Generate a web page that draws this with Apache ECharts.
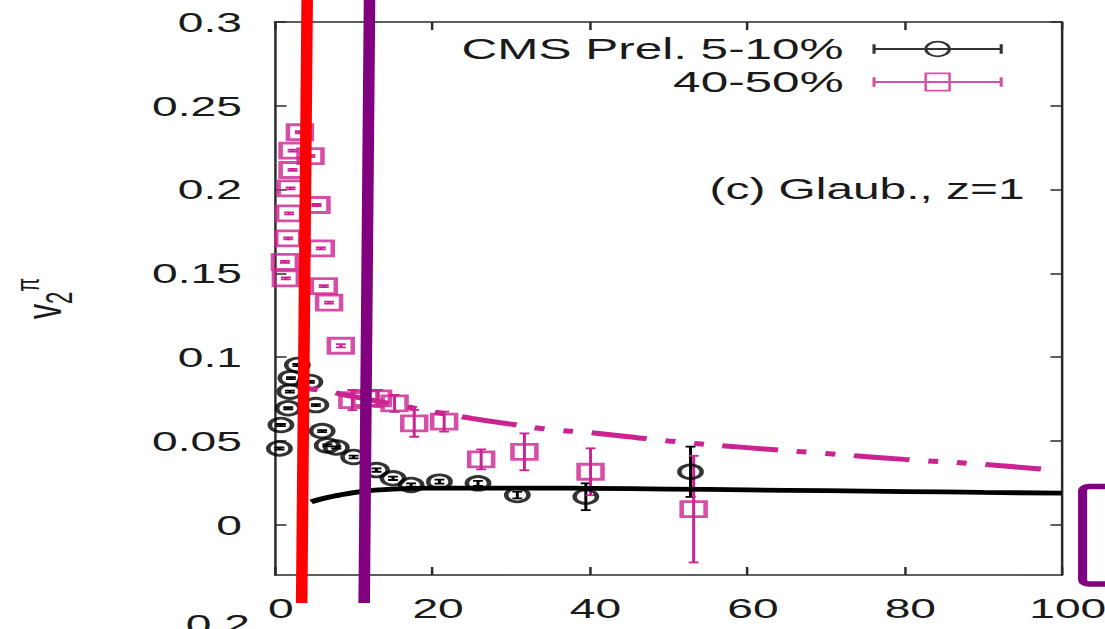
<!DOCTYPE html>
<html>
<head>
<meta charset="utf-8">
<script src="https://cdn.jsdelivr.net/npm/echarts@6/dist/echarts.min.js"></script>
<style>
  html, body { margin: 0; padding: 0; background: #fff; overflow: hidden; }
  #wrap { width: 1105px; height: 629px; overflow: hidden; position: relative; }
  /* the panel is laid out narrow and stretched horizontally */
  #chart { width: 670px; height: 629px; transform: scaleX(1.6493); transform-origin: 0 0; }
</style>
</head>
<body>
<div id="wrap"><div id="chart"></div></div>
<script>
// ---- axis ticks ----
const xTicks = [0, 20, 40, 60, 80, 100];
const yTicks = [0, 0.05, 0.1, 0.15, 0.2, 0.25, 0.3];

// ---- CMS preliminary, 5-10% centrality ----
const cmsName = 'CMS Prel. 5-10%';
const cmsPt  = [0.57, 0.76, 1.69, 1.9, 2.03, 2.85, 4.44, 5.2, 6.0, 6.65, 7.8, 10.0, 12.9, 15.0, 17.3, 20.9, 25.8, 30.8, 39.5, 52.8];
const cmsV   = [0.0455, 0.0595, 0.0695, 0.0794, 0.0875, 0.0953, 0.0852, 0.0714, 0.0559, 0.0473, 0.0461, 0.0404, 0.0326, 0.0277, 0.0237, 0.0257, 0.0247, 0.0177, 0.0167, 0.0316];
const cmsErr = [0.0006, 0.0006, 0.0006, 0.0006, 0.0006, 0.0006, 0.0006, 0.0006, 0.0006, 0.0006, 0.0006, 0.0008, 0.001, 0.001, 0.001, 0.0012, 0.0015, 0.002, 0.008, 0.015];

// ---- CMS preliminary, 40-50% centrality ----
const midName = '40-50%';
const midPt  = [1.27, 1.39, 1.69, 1.81, 1.99, 2.24, 2.24, 3.17, 4.52, 5.28, 5.83, 6.21, 6.88, 8.37, 9.84, 11.5, 13.1, 15.2, 17.7, 21.5, 26.2, 31.7, 40.1, 53.2];
const midV   = [0.1569, 0.1470, 0.1709, 0.1858, 0.2007, 0.2117, 0.2232, 0.2342, 0.2200, 0.1908, 0.1649, 0.1424, 0.1325, 0.1068, 0.0744, 0.0756, 0.0754, 0.0724, 0.0605, 0.0615, 0.0390, 0.0435, 0.0316, 0.0093];
const midErr = [0.0006, 0.0006, 0.0006, 0.0006, 0.0006, 0.0006, 0.0006, 0.0006, 0.0006, 0.0006, 0.0006, 0.0006, 0.0006, 0.001, 0.006, 0.005, 0.005, 0.005, 0.008, 0.006, 0.006, 0.011, 0.014, 0.0318];

// ---- Glauber, z=1 calculations ----
const calcCentralPt = [4.6, 6, 8, 10, 12, 15, 20, 30, 40, 50, 60, 70, 80, 90, 100];
const calcCentralV  = [0.0137, 0.0155, 0.0175, 0.0192, 0.0203, 0.0213, 0.0218, 0.0219, 0.0217, 0.0213, 0.0208, 0.0203, 0.0198, 0.0193, 0.0188];
const calcPeriphPt  = [4.2, 5.5, 10, 15, 20, 25, 30, 35, 40, 50, 60, 70, 80, 90, 99];
const calcPeriphV   = [0.0812, 0.0805, 0.0765, 0.0720, 0.0675, 0.0635, 0.0600, 0.0568, 0.0550, 0.0500, 0.0460, 0.0425, 0.0390, 0.0360, 0.0325];

const FONT = '"Liberation Sans", Arial, Helvetica, sans-serif';
const INK = '#1a1a1a';
const PINK = '#cb2391';

const chart = echarts.init(document.getElementById('chart'), null, { renderer: 'svg' });

const zip = (a, b) => a.map((v, i) => [v, b[i]]);

// vertical error bars with small caps
function errorBars(name, xs, ys, es, color) {
  return {
    type: 'custom',
    name: name + ' err',
    silent: true,
    clip: true,
    z: 3,
    data: xs.map((x, i) => [x, ys[i], es[i]]),
    encode: { x: 0, y: 1 },
    renderItem(params, api) {
      const x = api.value(0), y = api.value(1), e = api.value(2);
      const hi = api.coord([x, y + e]);
      const lo = api.coord([x, y - e]);
      const c = 3;
      const st = { stroke: color, lineWidth: 1.8 };
      return {
        type: 'group',
        children: [
          { type: 'line', shape: { x1: hi[0], y1: hi[1], x2: lo[0], y2: lo[1] }, style: st },
          { type: 'line', shape: { x1: hi[0] - c, y1: hi[1], x2: hi[0] + c, y2: hi[1] }, style: st },
          { type: 'line', shape: { x1: lo[0] - c, y1: lo[1], x2: lo[0] + c, y2: lo[1] }, style: st }
        ]
      };
    }
  };
}

// legend samples: bar with end caps and the point marker
const cmsIcon = 'path://M0 0M79 20M0 8.9H79V11.1H0ZM0 5.3H1.9V14.7H0ZM77.1 5.3H79V14.7H77.1Z' +
  'M31.4 10A8.1 8.3 0 1 1 47.6 10A8.1 8.3 0 1 1 31.4 10Z' +
  'M33.3 10A6.2 6.4 0 1 0 45.7 10A6.2 6.4 0 1 0 33.3 10Z';
const midIcon = 'path://M0 0M79 20M0 8.9H79V11.1H0ZM0 5.3H1.9V14.7H0ZM77.1 5.3H79V14.7H77.1Z' +
  'M31.5 0.5H47.5V19.5H31.5Z' +
  'M33 2.3V17.7H46V2.3Z';

const axisLineStyle = { color: '#2a2a2a', width: 1.5 };

const option = {
  animation: false,
  backgroundColor: '#fff',
  textStyle: { fontFamily: FONT, color: INK },
  grid: { left: 166.7, right: 26.1, top: 22, bottom: 54, containLabel: false, outerBoundsMode: 'none' },
  title: {
    text: '(c) Glaub., z=1',
    right: 48.8, top: 174, padding: 0,
    textStyle: { fontSize: 29, fontWeight: 'normal', color: INK, fontFamily: FONT, lineHeight: 30 }
  },
  legend: {
    orient: 'vertical', align: 'right', right: 62, top: 34, itemGap: 3, padding: 0,
    itemWidth: 79, itemHeight: 20, selectedMode: false,
    textStyle: { fontSize: 30, color: INK, fontFamily: FONT, lineHeight: 30, padding: [0, 12.5, 0, 0] },
    itemStyle: { borderWidth: 0 },
    data: [
      { name: cmsName, icon: cmsIcon, itemStyle: { color: '#000', borderWidth: 0 } },
      { name: midName, icon: midIcon, itemStyle: { color: PINK, borderWidth: 0 } }
    ]
  },
  xAxis: [
    {
      type: 'value', min: xTicks[0], max: xTicks[xTicks.length - 1], interval: 20,
      axisLine: { show: true, onZero: false, lineStyle: axisLineStyle },
      axisTick: { show: true, inside: true, length: 8, lineStyle: axisLineStyle },
      axisLabel: { fontSize: 28, color: INK, fontFamily: FONT, margin: 19, padding: [0, 0, 0, 7], hideOverlap: false },
      splitLine: { show: false }
    },
    {
      type: 'value', position: 'top', min: xTicks[0], max: xTicks[xTicks.length - 1], interval: 20,
      axisLine: { show: true, onZero: false, lineStyle: axisLineStyle },
      axisTick: { show: true, inside: true, length: 8, lineStyle: axisLineStyle },
      axisLabel: { show: false },
      splitLine: { show: false }
    }
  ],
  yAxis: [
    {
      type: 'value', min: -0.03, max: 0.3,
      name: '{v|v}{s|2}{p|π}', nameLocation: 'middle', nameRotate: 90, nameGap: 120,
      nameTextStyle: {
        rich: {
          v: { fontSize: 30, lineHeight: 40, verticalAlign: 'middle', fontFamily: FONT, color: INK },
          s: { fontSize: 22, lineHeight: 22, verticalAlign: 'bottom', fontFamily: FONT, color: INK },
          p: { fontSize: 20, lineHeight: 20, verticalAlign: 'top', fontFamily: FONT, color: INK }
        }
      },
      axisLine: { show: true, onZero: false, lineStyle: axisLineStyle },
      axisTick: { show: true, inside: true, length: 7, lineStyle: axisLineStyle, customValues: yTicks },
      axisLabel: {
        fontSize: 28, color: INK, fontFamily: FONT, margin: 20, customValues: yTicks,
        formatter: v => String(+v.toFixed(2))
      },
      splitLine: { show: false }
    },
    {
      type: 'value', position: 'right', min: -0.03, max: 0.3,
      axisLine: { show: true, onZero: false, lineStyle: axisLineStyle },
      axisTick: { show: true, inside: true, length: 7, lineStyle: axisLineStyle, customValues: yTicks },
      axisLabel: { show: false },
      splitLine: { show: false }
    }
  ],
  series: [
    errorBars(cmsName, cmsPt, cmsV, cmsErr, '#000'),
    {
      type: 'scatter', name: cmsName, z: 4,
      data: zip(cmsPt, cmsV),
      symbol: 'circle', symbolSize: 13.5,
      itemStyle: { color: 'rgba(0,0,0,0)', borderColor: '#000', borderWidth: 2.8 }
    },
    errorBars(midName, midPt, midV, midErr, PINK),
    {
      type: 'scatter', name: midName, z: 4,
      data: zip(midPt, midV),
      symbol: 'rect', symbolSize: [14.5, 15],
      itemStyle: { color: 'rgba(0,0,0,0)', borderColor: PINK, borderWidth: 2.8 }
    },
    {
      type: 'line', name: 'Glaub. 5-10%', z: 5,
      data: zip(calcCentralPt, calcCentralV),
      showSymbol: false, smooth: true, silent: true,
      lineStyle: { color: '#000', width: 4.8 }
    },
    {
      type: 'line', name: 'Glaub. 40-50%', z: 5,
      data: zip(calcPeriphPt, calcPeriphV),
      showSymbol: false, smooth: true, silent: true,
      lineStyle: { color: PINK, width: 5, type: [34, 11.5, 6, 11.5, 6, 11.3], dashOffset: 62.7, cap: 'butt' }
    }
  ],
  graphic: [
    // tick label of the panel below, cut by the frame edge
    { type: 'text', x: 151.5, y: 610, silent: true,
      style: { text: '0.2', align: 'right', verticalAlign: 'top', fontSize: 28, fill: INK, fontFamily: FONT } },
    // hand-drawn marker strokes
    { type: 'line', z: 100, silent: true,
      shape: { x1: 186.3, y1: -10, x2: 182.9, y2: 603 },
      style: { stroke: '#ff0000', lineWidth: 7, lineCap: 'butt' } },
    { type: 'line', z: 100, silent: true,
      shape: { x1: 224.1, y1: -10, x2: 220.8, y2: 603 },
      style: { stroke: '#800080', lineWidth: 7, lineCap: 'butt' } },
    { type: 'rect', z: 100, silent: true,
      shape: { x: 656.4, y: 486.5, width: 40, height: 97.5, r: 4 },
      style: { stroke: '#800080', fill: 'none', lineWidth: 5.5 } }
  ]
};

chart.setOption(option);
</script>
</body>
</html>
